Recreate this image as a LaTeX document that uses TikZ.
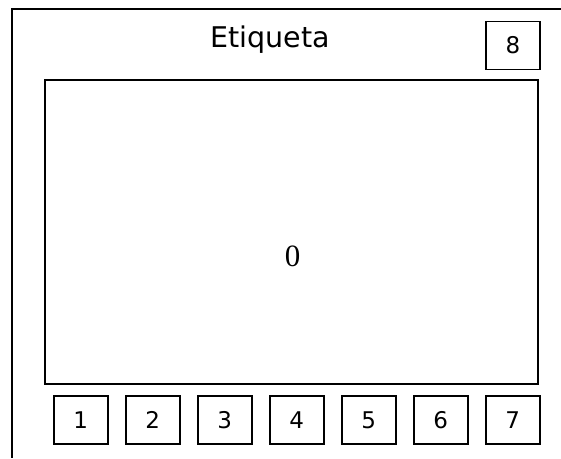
\documentclass[tikz,border=0pt]{standalone}
\usepackage{fontspec}
\setmainfont{DejaVu Sans}
\newfontfamily\serifnum{Liberation Serif}
\usetikzlibrary{positioning}

\begin{document}
\begin{tikzpicture}[
  x=1pt,y=-1pt,
  frame/.style={draw=black,line width=1.7pt},
  keybox/.style={rectangle,draw=black,line width=1.5pt,minimum width=54pt,
                 minimum height=48pt,inner sep=0pt,font=\fontsize{23}{25}\selectfont},
  screen/.style={rectangle,draw=black,line width=1.7pt,minimum width=493pt,
                 minimum height=304pt,inner sep=0pt},
  title/.style={font=\fontsize{28.5}{30}\selectfont,inner sep=0pt},
  value/.style={font=\serifnum\fontsize{31}{33}\selectfont,inner sep=0pt},
]
\useasboundingbox (0,0) rectangle (561,458);

%% outer window (cut off at right and bottom)
\coordinate (tr) at (561,9);
\coordinate (tl) at (12,9);
\coordinate (bl) at (12,458);
\draw[frame] (tr)--(tl)--(bl);

%% title and corner key
\node[title,anchor=base] (lbl) at (270,47) {Etiqueta};
\node[keybox] (k8) at (513,45.5) {8};

%% display area
\node[screen] (disp) at (291.5,232) {};
\node[value] (val) at (292.5,256.5) {0};

%% bottom keys
\foreach \i in {1,...,7}
  \node[keybox] (k\i) at ({80.8+72*(\i-1)},420) {\i};
\end{tikzpicture}
\end{document}
